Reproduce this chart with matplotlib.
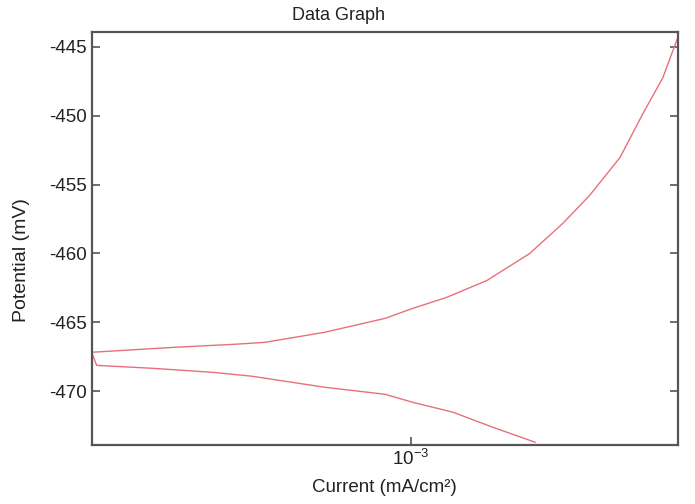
import matplotlib
matplotlib.use("Agg")
import matplotlib.pyplot as plt
from matplotlib.ticker import FixedLocator, FixedFormatter, NullLocator

plt.rcParams['font.family'] = ['Liberation Sans', 'DejaVu Sans']
plt.rcParams['mathtext.fontset'] = 'custom'
plt.rcParams['mathtext.rm'] = 'Liberation Sans'
plt.rcParams['mathtext.it'] = 'Liberation Sans'

# Anodic branch (upper curve): current (mA/cm^2) and potential (mV)
anodic_current = [2.858e-4, 3.954e-4, 5.01e-4, 5.64e-4, 7.13e-4, 9.04e-4, 1.007e-3,
                  1.151e-3, 1.349e-3, 1.596e-3, 1.816e-3, 2.018e-3, 2.275e-3,
                  2.489e-3, 2.692e-3, 2.858e-3]
anodic_potential = [-467.17, -466.81, -466.59, -466.45, -465.72, -464.71, -463.99,
                    -463.19, -461.96, -460.00, -457.83, -455.80, -453.04,
                    -449.86, -447.25, -444.28]

# Cathodic branch (lower curve)
cathodic_current = [2.858e-4, 2.91e-4, 3.61e-4, 4.57e-4, 5.36e-4, 7.13e-4, 9.04e-4,
                    1.007e-3, 1.180e-3, 1.380e-3, 1.630e-3]
cathodic_potential = [-467.25, -468.12, -468.33, -468.62, -468.91, -469.71, -470.22,
                      -470.80, -471.52, -472.61, -473.70]

y_ticks = [-445, -450, -455, -460, -465, -470]
x_ticks = [1e-3]
x_tick_labels = [r'$\mathregular{10^{-3}}$']

fig = plt.figure(figsize=(6.95, 5.04), dpi=100)
ax = fig.add_axes([92/695, 1-445/504, (678-92)/695, (445-32)/504])

line_color = '#e8707a'
ax.plot(anodic_current, anodic_potential, color=line_color, lw=1.0)
ax.plot(cathodic_current, cathodic_potential, color=line_color, lw=1.0)

ax.set_xscale('log')
ax.set_xlim(10**-3.544, 10**-2.544)
ax.set_ylim(-473.9, -443.93)

ax.xaxis.set_major_locator(FixedLocator(x_ticks))
ax.xaxis.set_major_formatter(FixedFormatter(x_tick_labels))
ax.xaxis.set_minor_locator(NullLocator())
ax.set_yticks(y_ticks)
ax.set_yticklabels([str(t) for t in y_ticks])

for s in ax.spines.values():
    s.set_color('#555555')
    s.set_linewidth(1.6)

ax.tick_params(axis='y', direction='in', length=6, width=1.2, color='#555555',
               labelsize=13.5, right=True, left=True, pad=4, labelcolor='#222222')
ax.tick_params(axis='x', direction='in', length=6, width=1.2, color='#555555',
               labelsize=13.5, pad=3, labelcolor='#222222')

fig.text(338/695, 1-16/504, 'Data Graph', ha='center', va='center', fontsize=13, color='#222222')
fig.text(384/695, 1-488/504, 'Current (mA/cm²)', ha='center', va='center', fontsize=13.5, color='#222222')
fig.text(22/695, 1-260/504, 'Potential (mV)', ha='center', va='center', rotation=90, fontsize=14, color='#222222')

fig.savefig('out.png', dpi=100, facecolor='white')
